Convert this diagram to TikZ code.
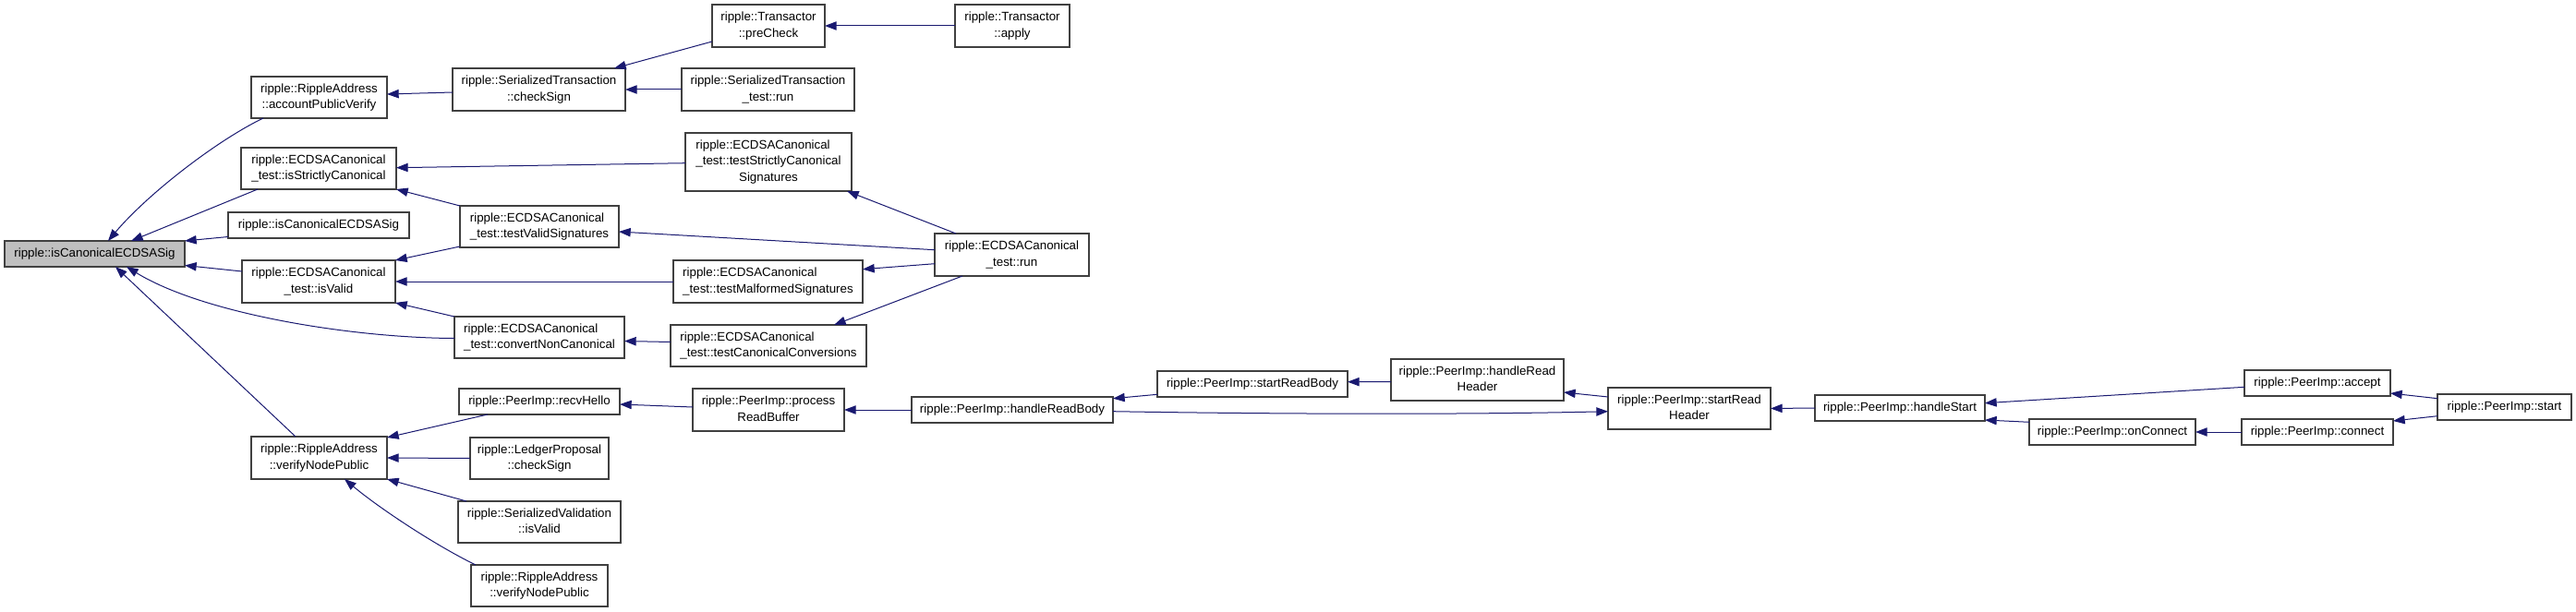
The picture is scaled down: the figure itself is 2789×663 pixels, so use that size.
\documentclass[tikz,border=0pt]{standalone}
\usepackage{fontspec}
\setmainfont{Liberation Sans}
\usetikzlibrary{arrows.meta,calc}
\definecolor{edgeblue}{HTML}{191970}
\definecolor{boxline}{HTML}{404040}
\definecolor{mainfill}{HTML}{BFBFBF}
\newcommand\lbl[2]{\begin{tabular}{@{}l@{}}#1\\\multicolumn{1}{@{}c@{}}{#2}\end{tabular}}
\newcommand\gnode[7][]{\node[gbox,#1,minimum width={(#5-#3)*0.75pt},minimum height={(#6-#4)*0.75pt}] (#2) at ({(#3+#5)/2},{(#4+#6)/2}) {#7};}
\tikzset{
  gbox/.style={draw=boxline, line width=0.9pt, fill=white, inner sep=0pt, outer sep=0pt, font=\fontsize{10}{13}\selectfont},
  mainbox/.style={fill=mainfill},
  edge/.style={draw=edgeblue, line width=0.75pt, -{Triangle[length=9.5pt,width=7pt]}}
}
\begin{document}
\begin{tikzpicture}[x=0.75pt,y=-0.75pt]
\useasboundingbox (0,0) rectangle (2789,663);
% nodes
\gnode[mainbox]{main}{5}{261}{200}{289}{ripple::isCanonicalECDSASig}
\gnode{acct}{272}{83}{419}{128}{\lbl{ripple::RippleAddress}{::accountPublicVerify}}
\gnode{isSC}{261}{160}{429}{205}{\lbl{ripple::ECDSACanonical}{\_test::isStrictlyCanonical}}
\gnode{icE2}{247}{230}{443}{258}{ripple::isCanonicalECDSASig}
\gnode{isV}{262}{282}{428}{328}{\lbl{ripple::ECDSACanonical}{\_test::isValid}}
\gnode{vnp}{272}{473}{419}{519}{\lbl{ripple::RippleAddress}{::verifyNodePublic}}
\gnode{preCheck}{771}{5}{893}{51}{\lbl{ripple::Transactor}{::preCheck}}
\gnode{stCS}{490}{74}{677}{120}{\lbl{ripple::SerializedTransaction}{::checkSign}}
\gnode{stRun}{738}{74}{925}{120}{\lbl{ripple::SerializedTransaction}{\_test::run}}
\gnode{tscs}{742}{144}{922}{207}{\lbl{ripple::ECDSACanonical\\\_test::testStrictlyCanonical}{Signatures}}
\gnode{tvs}{498}{223}{670}{268}{\lbl{ripple::ECDSACanonical}{\_test::testValidSignatures}}
\gnode{tms}{729}{282}{934}{328}{\lbl{ripple::ECDSACanonical}{\_test::testMalformedSignatures}}
\gnode{cnc}{492}{343}{676}{388}{\lbl{ripple::ECDSACanonical}{\_test::convertNonCanonical}}
\gnode{tcc}{726}{352}{938}{397}{\lbl{ripple::ECDSACanonical}{\_test::testCanonicalConversions}}
\gnode{recvHello}{497}{421}{671}{449}{ripple::PeerImp::recvHello}
\gnode{prb}{750}{421}{914}{467}{\lbl{ripple::PeerImp::process}{ReadBuffer}}
\gnode{lpCS}{509}{474}{659}{519}{\lbl{ripple::LedgerProposal}{::checkSign}}
\gnode{svIV}{496}{543}{672}{588}{\lbl{ripple::SerializedValidation}{::isValid}}
\gnode{vnp2}{510}{612}{658}{657}{\lbl{ripple::RippleAddress}{::verifyNodePublic}}
\gnode{apply}{1034}{5}{1158}{51}{\lbl{ripple::Transactor}{::apply}}
\gnode{ecRun}{1012}{253}{1179}{299}{\lbl{ripple::ECDSACanonical}{\_test::run}}
\gnode{hrb}{987}{430}{1205}{458}{ripple::PeerImp::handleReadBody}
\gnode{srb}{1253}{402}{1459}{430}{ripple::PeerImp::startReadBody}
\gnode{hrh}{1506}{389}{1693}{434}{\lbl{ripple::PeerImp::handleRead}{Header}}
\gnode{srh}{1741}{420}{1917}{465}{\lbl{ripple::PeerImp::startRead}{Header}}
\gnode{hs}{1965}{428}{2149}{456}{ripple::PeerImp::handleStart}
\gnode{accept}{2430}{401}{2588}{429}{ripple::PeerImp::accept}
\gnode{onConnect}{2197}{454}{2377}{482}{ripple::PeerImp::onConnect}
\gnode{connect}{2427}{454}{2591}{482}{ripple::PeerImp::connect}
\gnode{start}{2639}{427}{2784}{455}{ripple::PeerImp::start}
% edges
\draw[edge] ($(acct.south west)+(13,0)$) .. controls (235,152) and (160,210) .. ($(main.north west)+(112,0)$);
\draw[edge] ($(isSC.south west)+(18,0)$) -- ($(main.north west)+(137,0)$);
\draw[edge] ($(icE2.south west)+(0,-1.5)$) -- (main.north east);
\draw[edge] ($(isV.west)+(0,-11)$) -- ($(main.south east)+(0,-1.5)$);
\draw[edge] ($(cnc.west)+(0,1)$) .. controls (380,366) and (220,340) .. ($(main.south west)+(132,0)$);
\draw[edge] ($(vnp.north west)+(48,0)$) -- ($(main.south west)+(120,0)$);
\draw[edge] ($(stCS.west)+(0,3)$) -- ($(acct.east)+(0,-3.5)$);
\draw[edge] ($(preCheck.south west)+(0,-6)$) -- ($(stCS.north east)+(-12,0)$);
\draw[edge] (stRun.west) -- (stCS.east);
\draw[edge] (apply.west) -- (preCheck.east);
\draw[edge] ($(tscs.west)+(0,1.2)$) -- ($(isSC.east)+(0,-0.8)$);
\draw[edge] (tvs.north west) -- (isSC.south east);
\draw[edge] ($(tvs.south west)+(0,-1)$) -- (isV.north east);
\draw[edge] (tms.west) -- (isV.east);
\draw[edge] (cnc.north west) -- (isV.south east);
\draw[edge] ($(ecRun.north west)+(23,0)$) -- ($(tscs.south east)+(-5,0)$);
\draw[edge] ($(ecRun.west)+(0,-5.3)$) -- ($(tvs.east)+(0,5.5)$);
\draw[edge] ($(ecRun.west)+(0,9.7)$) -- ($(tms.north east)+(0,9.7)$);
\draw[edge] ($(ecRun.south west)+(30,0)$) -- ($(tcc.north east)+(-35,0)$);
\draw[edge] ($(tcc.west)+(0,-4)$) -- ($(cnc.east)+(0,4)$);
\draw[edge] ($(recvHello.south west)+(31,0)$) -- ($(vnp.north east)+(0,1)$);
\draw[edge] (lpCS.west) -- (vnp.east);
\draw[edge] ($(svIV.north west)+(9,0)$) -- (vnp.south east);
\draw[edge] ($(vnp2.north west)+(5,0)$) .. controls (470,590) and (410,550) .. ($(vnp.south)+(27.5,0)$);
\draw[edge] ($(prb.west)+(0,-3)$) -- ($(recvHello.east)+(0,3)$);
\draw[edge] (hrb.west) -- (prb.east);
\draw[edge] ($(srb.south west)+(0,-2.7)$) -- ($(hrb.north east)+(0,1.7)$);
\draw[edge] ($(hrh.west)+(0,2)$) -- ($(srb.east)+(0,-2.3)$);
\draw[edge] ($(srh.north west)+(0,10)$) -- ($(hrh.east)+(0,13.5)$);
\draw[edge] ($(hrb.east)+(0,1.7)$) .. controls (1400,449) and (1600,449) .. ($(srh.west)+(0,3.2)$);
\draw[edge] (hs.west) -- (srh.east);
\draw[edge] ($(accept.west)+(0,4.3)$) -- ($(hs.east)+(0,-5.3)$);
\draw[edge] ($(onConnect.north west)+(0,3.3)$) -- ($(hs.south east)+(0,-1)$);
\draw[edge] (connect.west) -- (onConnect.east);
\draw[edge] ($(start.north west)+(0,4.7)$) -- ($(accept.south east)+(0,-3)$);
\draw[edge] ($(start.south west)+(0,-4.3)$) -- ($(connect.north east)+(0,2)$);
\end{tikzpicture}
\end{document}
